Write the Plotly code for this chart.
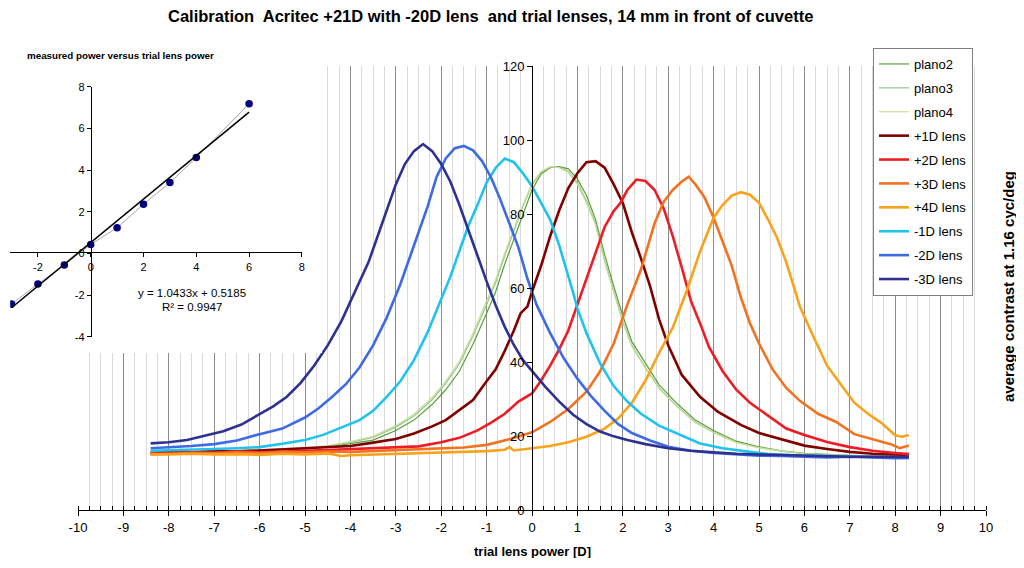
import plotly.graph_objs as go

# the page body adds an 8 px margin on every side; keep the figure inside the window
W, H = 1008, 550
OFF = 8
FONT = "Liberation Sans, Arial, sans-serif"

# ---- main chart data: average contrast vs trial lens power ----
x_plano = [-8.4, -8.0, -7.5, -7.0, -6.5, -6.0, -5.5, -5.0, -4.5, -4.0, -3.5, -3.0, -2.6, -2.2,
           -1.9, -1.6, -1.3, -1.0, -0.8, -0.6, -0.4, -0.2, 0.0, 0.2, 0.4, 0.6, 0.8, 1.0, 1.2,
           1.4, 1.6, 1.8, 2.0, 2.2, 2.5, 2.8, 3.2, 3.6, 4.0, 4.5, 5.0, 5.5, 6.0, 6.5, 7.0,
           7.5, 8.0, 8.3]
y_plano2 = [15.6, 15.7, 15.8, 15.9, 16.0, 16.1, 16.3, 16.5, 17.0, 17.9, 18.9, 21.5, 24.3, 28.5,
            32.5, 37.5, 44.8, 53.2, 59.0, 66.5, 73.3, 80.0, 86.5, 90.8, 92.5, 92.8, 92.2, 89.5,
            85.0, 78.5, 69.0, 60.5, 52.5, 45.5, 39.5, 33.8, 28.7, 24.3, 21.5, 18.6, 17.1, 16.0,
            15.3, 15.0, 14.8, 14.7, 14.6, 14.6]
y_plano3 = [15.5, 15.6, 15.7, 15.9, 16.0, 16.2, 16.4, 16.7, 17.3, 18.3, 19.6, 22.4, 25.4, 29.8,
            34.2, 39.5, 47.0, 55.5, 61.5, 68.8, 75.5, 82.0, 87.8, 91.3, 92.7, 92.6, 91.5, 88.5,
            83.6, 77.3, 67.5, 59.5, 51.0, 44.5, 38.5, 33.0, 28.0, 23.8, 21.0, 18.3, 16.9, 15.9,
            15.2, 14.9, 14.7, 14.6, 14.5, 14.5]
y_plano4 = [15.4, 15.6, 15.8, 15.8, 16.1, 16.2, 16.5, 16.8, 17.4, 18.5, 19.9, 22.8, 25.9, 30.4,
            34.8, 40.2, 47.8, 56.3, 62.3, 69.5, 76.2, 82.5, 88.2, 91.5, 92.8, 92.5, 91.2, 88.0,
            83.0, 77.0, 67.0, 59.0, 50.6, 44.2, 38.2, 32.8, 27.8, 23.6, 20.9, 18.2, 16.8, 15.9,
            15.2, 14.9, 14.7, 14.6, 14.5, 14.5]

x_p1 = [-8.4, -8.0, -7.5, -7.0, -6.5, -6.0, -5.5, -5.0, -4.5, -4.0, -3.5, -3.0, -2.6, -2.2, -1.9,
        -1.6, -1.3, -1.0, -0.8, -0.6, -0.4, -0.25, -0.1, 0.0, 0.2, 0.4, 0.6, 0.8, 1.0, 1.2, 1.4,
        1.6, 1.8, 2.0, 2.2, 2.4, 2.6, 2.8, 3.0, 3.3, 3.7, 4.1, 4.6, 5.0, 5.5, 6.0, 6.5, 7.0, 7.5,
        8.0, 8.3]
y_p1 = [15.4, 15.6, 15.5, 15.9, 15.8, 16.1, 16.4, 16.8, 16.9, 17.3, 18.2, 19.2, 20.7, 22.6, 24.3,
        27.0, 29.7, 34.8, 38.0, 43.0, 48.5, 53.2, 55.0, 59.0, 66.0, 74.0, 81.0, 87.0, 91.0, 94.0,
        94.3, 92.5, 88.0, 83.0, 75.0, 68.0, 60.5, 51.5, 44.5, 36.5, 30.6, 26.5, 23.0, 20.8, 19.0,
        17.4, 16.5, 15.7, 15.2, 15.0, 14.9]

x_p2 = [-8.4, -8.0, -7.5, -7.0, -6.5, -6.0, -5.5, -5.0, -4.5, -4.0, -3.5, -3.0, -2.5, -2.0, -1.6,
        -1.2, -0.9, -0.6, -0.3, 0.0, 0.2, 0.4, 0.6, 0.8, 1.0, 1.2, 1.4, 1.6, 1.8, 1.95, 2.1, 2.3,
        2.5, 2.7, 2.9, 3.1, 3.3, 3.5, 3.7, 3.9, 4.2, 4.5, 4.8, 5.2, 5.6, 6.0, 6.5, 7.0, 7.5, 8.0,
        8.3]
y_p2 = [15.3, 15.4, 15.6, 15.5, 15.8, 15.6, 15.9, 16.0, 16.2, 16.4, 16.6, 16.9, 17.2, 18.3, 19.5,
        21.5, 23.6, 26.0, 29.3, 31.5, 35.0, 39.0, 43.5, 48.5, 55.5, 62.5, 70.0, 76.5, 80.8, 83.0,
        86.5, 89.3, 88.9, 86.5, 81.5, 74.0, 65.5, 56.5, 50.5, 44.0, 37.5, 32.5, 29.0, 25.5, 22.0,
        20.3, 18.4, 17.0, 16.0, 15.4, 15.1]

x_p3 = [-8.4, -8.0, -7.5, -7.0, -6.5, -6.0, -5.5, -5.0, -4.5, -4.0, -3.5, -3.0, -2.5, -2.0, -1.5,
        -1.0, -0.5, 0.0, 0.4, 0.8, 1.2, 1.5, 1.8, 2.1, 2.4, 2.7, 2.9, 3.1, 3.3, 3.45, 3.6, 3.8,
        4.0, 4.2, 4.4, 4.6, 4.8, 5.0, 5.3, 5.6, 5.9, 6.3, 6.7, 7.1, 7.5, 7.9, 8.1, 8.3]
y_p3 = [15.0, 15.2, 15.4, 15.3, 15.6, 15.4, 15.7, 15.6, 15.8, 15.7, 15.9, 16.2, 16.4, 16.6, 16.9,
        17.6, 19.1, 21.0, 23.8, 27.3, 32.0, 37.5, 45.0, 55.5, 65.0, 77.5, 83.3, 86.5, 88.8, 90.1,
        88.0, 84.5, 79.0, 72.5, 66.0, 57.5, 50.5, 45.0, 38.0, 33.0, 29.5, 26.0, 23.8, 20.5, 19.2,
        17.8, 16.7, 17.4]

x_p4 = [-8.4, -8.0, -7.5, -7.0, -6.5, -6.0, -5.5, -5.0, -4.5, -4.2, -4.0, -3.5, -3.0, -2.5, -2.0,
        -1.5, -1.0, -0.6, -0.5, -0.4, 0.0, 0.4, 0.8, 1.2, 1.6, 1.9, 2.2, 2.5, 2.8, 3.1, 3.4, 3.7,
        4.0, 4.2, 4.4, 4.6, 4.8, 5.0, 5.2, 5.4, 5.6, 5.9, 6.2, 6.5, 6.8, 7.1, 7.4, 7.7, 8.0, 8.15,
        8.3]
y_p4 = [15.1, 15.0, 15.2, 15.0, 15.1, 14.9, 15.2, 15.0, 15.3, 14.6, 14.8, 15.0, 15.1, 15.3, 15.4,
        15.6, 15.9, 16.3, 17.0, 16.1, 16.6, 17.3, 18.3, 19.8, 22.0, 24.8, 29.0, 35.0, 42.5, 49.3,
        59.0, 69.8, 79.0, 82.5, 85.0, 85.9, 85.2, 83.0, 78.5, 73.5, 67.0, 55.0, 46.8, 39.0, 34.0,
        29.0, 26.0, 23.5, 20.2, 19.8, 20.3]

x_m1 = [-8.4, -8.0, -7.5, -7.0, -6.5, -6.0, -5.5, -5.0, -4.6, -4.2, -3.8, -3.5, -3.2, -2.9, -2.6,
        -2.3, -2.0, -1.8, -1.6, -1.4, -1.2, -1.0, -0.8, -0.6, -0.4, -0.2, 0.0, 0.2, 0.4, 0.6, 0.8,
        0.9, 1.0, 1.2, 1.5, 1.8, 2.1, 2.4, 2.8, 3.2, 3.7, 4.2, 4.7, 5.2, 5.8, 6.4, 7.0, 7.6, 8.0,
        8.3]
y_m1 = [16.0, 16.1, 16.3, 16.5, 16.7, 17.0, 17.9, 18.9, 20.3, 22.4, 24.3, 26.8, 30.6, 34.8, 40.5,
        48.0, 56.8, 63.0, 70.0, 76.8, 82.5, 88.5, 92.5, 95.0, 94.0, 91.0, 87.5, 83.0, 78.5, 71.5,
        63.5, 59.0, 54.5, 47.8, 39.6, 33.5, 29.3, 26.0, 22.8, 20.6, 18.0, 16.7, 15.8, 15.1, 14.8,
        14.6, 14.4, 14.3, 14.2, 14.3]

x_m2 = [-8.4, -8.0, -7.5, -7.0, -6.5, -6.0, -5.5, -5.0, -4.7, -4.4, -4.1, -3.8, -3.5, -3.2, -2.9,
        -2.6, -2.3, -2.1, -1.9, -1.7, -1.5, -1.3, -1.1, -0.9, -0.7, -0.5, -0.3, -0.1, 0.1, 0.4,
        0.7, 1.0, 1.3, 1.6, 1.9, 2.2, 2.6, 3.0, 3.5, 4.0, 4.5, 5.0, 5.5, 6.0, 6.5, 7.0, 7.5, 8.0,
        8.3]
y_m2 = [16.7, 16.9, 17.3, 17.8, 18.8, 20.5, 22.0, 25.0, 27.5, 30.6, 34.0, 38.5, 44.5, 52.0, 61.0,
        71.5, 82.0, 90.1, 95.0, 97.8, 98.4, 97.2, 94.3, 89.8, 84.0, 77.5, 71.0, 62.5, 55.5, 47.8,
        41.0, 35.5, 30.8, 26.8, 23.2, 20.8, 18.8, 17.1, 16.0, 15.4, 15.0, 14.7, 14.6, 14.4, 14.2,
        14.4, 14.1, 14.0, 14.1]

x_m3 = [-8.4, -8.0, -7.6, -7.2, -6.8, -6.4, -6.0, -5.7, -5.4, -5.1, -4.8, -4.5, -4.2, -3.9, -3.6,
        -3.3, -3.0, -2.8, -2.6, -2.4, -2.2, -2.0, -1.8, -1.6, -1.4, -1.2, -1.0, -0.8, -0.6, -0.4,
        -0.2, 0.0, 0.3, 0.6, 0.9, 1.2, 1.5, 1.8, 2.1, 2.5, 3.0, 3.5, 4.0, 4.5, 5.0, 5.5, 6.0, 6.5,
        7.0, 7.5, 8.0, 8.3]
y_m3 = [18.0, 18.3, 18.9, 20.0, 21.3, 23.1, 25.8, 28.0, 30.6, 34.3, 39.0, 44.5, 51.0, 58.8, 67.0,
        77.5, 88.0, 93.5, 97.0, 98.9, 97.0, 93.5, 88.8, 82.5, 75.8, 68.7, 61.8, 55.3, 49.5, 44.6,
        40.5, 37.5, 33.2, 29.3, 25.8, 23.2, 21.2, 19.9, 18.9, 17.8, 16.7, 16.0, 15.5, 15.2, 15.0,
        14.8, 14.6, 14.5, 14.4, 14.4, 14.3, 14.3]

series = [
    ("plano2", x_plano, y_plano2, "#5A9E3C", 1.2),
    ("plano3", x_plano, y_plano3, "#93C58A", 1.2),
    ("plano4", x_plano, y_plano4, "#C9DE98", 1.2),
    ("+1D lens", x_p1, y_p1, "#800000", 2.6),
    ("+2D lens", x_p2, y_p2, "#EE1C24", 2.6),
    ("+3D lens", x_p3, y_p3, "#F27221", 2.6),
    ("+4D lens", x_p4, y_p4, "#F8A31B", 2.6),
    ("-1D lens", x_m1, y_m1, "#1EC3EE", 2.6),
    ("-2D lens", x_m2, y_m2, "#3E6BE5", 2.6),
    ("-3D lens", x_m3, y_m3, "#2E3192", 2.6),
]

x_ticks = list(range(-10, 11))
y_ticks = [0, 20, 40, 60, 80, 100, 120]

# ---- inset: measured power versus trial lens power ----
trial_power = [-3, -2, -1, 0, 1, 2, 3, 4, 6]
measured_power = [-2.43, -1.47, -0.56, 0.43, 1.23, 2.36, 3.4, 4.6, 7.18]
fit_slope, fit_intercept = 1.0433, 0.5185
inset_xticks = [-2, 0, 2, 4, 6, 8]
inset_yticks = [-4, -2, 0, 2, 4, 6, 8]


# helpers: window pixel -> paper fraction
def px(v):
    return (v - OFF) / W


def py(v):
    return 1 - (v - OFF) / H


fig = go.Figure()

for name, xs, ys, color, width in series:
    fig.add_trace(go.Scatter(x=xs, y=ys, mode="lines", name=name, legendgroup=name,
                             line=dict(color=color, width=width)))

# blank subplot used as the white panel behind the inset
fig.add_trace(go.Scatter(x=[None], y=[None], xaxis="x2", yaxis="y2", showlegend=False,
                         hoverinfo="skip"))

fig.add_trace(go.Scatter(x=trial_power, y=measured_power, xaxis="x3", yaxis="y3",
                         mode="lines+markers", showlegend=False,
                         line=dict(color="#A6A6A6", width=1),
                         marker=dict(color="#000080", size=7.5)))
fit_x = [trial_power[0], trial_power[-1]]
fit_y = [fit_slope * v + fit_intercept for v in fit_x]
fig.add_trace(go.Scatter(x=fit_x, y=fit_y, xaxis="x3", yaxis="y3", mode="lines",
                         showlegend=False, line=dict(color="black", width=1.5)))

tick_font = dict(family=FONT, size=13, color="black")
small_font = dict(family=FONT, size=11, color="black")

fig.update_layout(
    width=W, height=H,
    margin=dict(l=0, r=0, t=0, b=0),
    paper_bgcolor="white", plot_bgcolor="white",
    font=dict(family=FONT, color="black"),
    xaxis=dict(domain=[px(78), px(986)], range=[-10, 10], anchor="y",
               tickvals=x_ticks, ticktext=[str(v) for v in x_ticks], tickfont=tick_font,
               ticks="outside", ticklen=5, tickcolor="black",
               showgrid=True, gridcolor="#8C8C8C", gridwidth=1,
               minor=dict(tickmode="linear", tick0=0, dtick=0.25, showgrid=True,
                          gridcolor="#DADADA", gridwidth=1, ticks="inside", ticklen=4,
                          tickcolor="black"),
               showline=True, linecolor="black", linewidth=1, zeroline=False,
               automargin=False),
    yaxis=dict(domain=[py(510), py(66)], range=[0, 120], anchor="free", position=px(532),
               tickvals=y_ticks, ticktext=[str(v) for v in y_ticks], tickfont=tick_font,
               ticks="outside", ticklen=5, tickcolor="black", showgrid=False,
               showline=True, linecolor="black", linewidth=1, zeroline=False,
               automargin=False),
    xaxis2=dict(domain=[0, px(322)], anchor="y2", visible=False, range=[0, 1]),
    yaxis2=dict(domain=[py(353), 1], anchor="x2", visible=False, range=[0, 1]),
    xaxis3=dict(domain=[px(10.2), px(301.9)], range=[-3.05, 8], anchor="free",
                position=py(252.3), tickvals=inset_xticks,
                ticktext=[str(v) for v in inset_xticks], tickfont=small_font,
                ticks="outside", ticklen=4, tickcolor="black", showgrid=False,
                showline=True, linecolor="black", linewidth=1, zeroline=False,
                automargin=False),
    yaxis3=dict(domain=[py(336.7), py(86.7)], range=[-4, 8], anchor="free",
                position=px(90.7), tickvals=inset_yticks,
                ticktext=[str(v) for v in inset_yticks], tickfont=small_font,
                ticks="outside", ticklen=4, tickcolor="black", showgrid=False,
                showline=True, linecolor="black", linewidth=1, zeroline=False,
                automargin=False),
    legend=dict(x=px(873), y=py(48), xanchor="left", yanchor="top",
                bgcolor="white", bordercolor="#808080", borderwidth=1,
                font=dict(family=FONT, size=13, color="black"),
                tracegroupgap=4, itemwidth=30),
    showlegend=True,
)

annotations = [
    dict(text="<b>Calibration  Acritec +21D with -20D lens  and trial lenses, 14 mm in front of cuvette</b>",
         x=px(490), y=py(16), font=dict(family=FONT, size=16.5, color="black")),
    dict(text="<b>trial lens power [D]</b>", x=px(532), y=py(551),
         font=dict(family=FONT, size=13, color="black")),
    dict(text="<b>average contrast at 1.16 cyc/deg</b>", x=px(1008), y=py(287), textangle=-90,
         font=dict(family=FONT, size=15, color="black")),
    dict(text="<b>measured power versus trial lens power</b>", x=px(25), y=py(55),
         xanchor="left", font=dict(family=FONT, size=9.8, color="black")),
    dict(text="y = 1.0433x + 0.5185", x=px(192), y=py(293),
         font=dict(family=FONT, size=11.5, color="black")),
    dict(text="R² = 0.9947", x=px(192), y=py(307),
         font=dict(family=FONT, size=11.5, color="black")),
]
for a in annotations:
    a.setdefault("xanchor", "center")
    a.update(xref="paper", yref="paper", yanchor="middle", showarrow=False)
fig.update_layout(annotations=annotations)

fig.write_html("out.html")
